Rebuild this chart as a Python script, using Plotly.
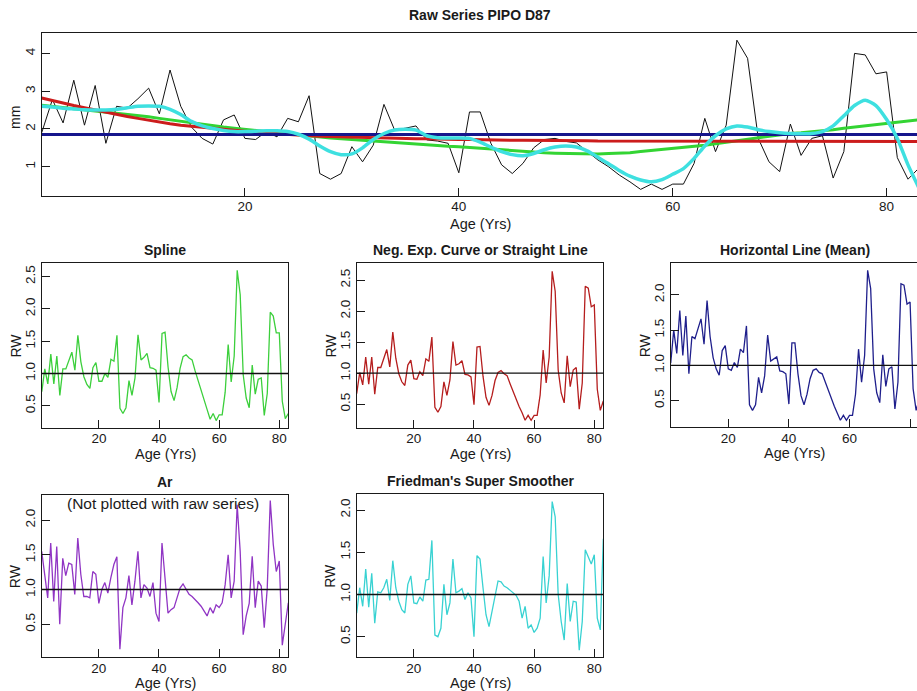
import plotly.graph_objects as go

W, H = 917, 691

# ---------------- data ----------------
age = list(range(1, 84))

raw_mm = [1.90, 2.78, 2.16, 3.29, 2.10, 3.15, 1.62, 2.60, 2.55, 2.80,
          3.08, 2.40, 3.56, 2.60, 2.05, 1.75, 1.60, 2.24, 2.37, 1.75,
          1.72, 1.93, 1.79, 2.28, 2.19, 2.88, 0.82, 0.67, 0.82, 1.53,
          1.13, 1.57, 2.65, 1.97, 2.02, 2.08, 1.71, 1.68, 1.62, 0.84,
          2.45, 2.45, 1.62, 1.05, 0.82, 1.09, 1.50, 1.72, 1.75, 1.67,
          1.63, 1.40, 1.18, 1.00, 0.78, 0.60, 0.40, 0.54, 0.40, 0.54,
          0.54, 1.09, 2.28, 1.40, 2.10, 4.35, 3.87, 1.75, 1.13, 0.87,
          2.13, 1.30, 1.75, 1.82, 0.70, 1.40, 4.00, 3.96, 3.46, 3.51,
          1.24, 0.67, 0.96]

spline_curve = [2.63, 2.60, 2.57, 2.54, 2.51, 2.48, 2.45, 2.42, 2.39, 2.35,
                2.32, 2.28, 2.24, 2.20, 2.16, 2.12, 2.08, 2.05, 2.02, 1.99,
                1.96, 1.93, 1.90, 1.87, 1.84, 1.81, 1.78, 1.76, 1.74, 1.72,
                1.70, 1.68, 1.66, 1.63, 1.61, 1.59, 1.57, 1.55, 1.54, 1.53,
                1.51, 1.49, 1.47, 1.45, 1.42, 1.40, 1.39, 1.37, 1.36, 1.35,
                1.35, 1.34, 1.34, 1.35, 1.35, 1.37, 1.40, 1.43, 1.46, 1.49,
                1.51, 1.53, 1.57, 1.61, 1.65, 1.69, 1.74, 1.78, 1.81, 1.85,
                1.88, 1.90, 1.92, 1.95, 1.98, 2.02, 2.05, 2.09, 2.12, 2.15,
                2.18, 2.21, 2.24]

negexp_curve = [2.82, 2.75, 2.68, 2.62, 2.56, 2.50, 2.44, 2.38, 2.33, 2.28,
                2.23, 2.18, 2.14, 2.10, 2.07, 2.04, 2.01, 1.98, 1.96, 1.93,
                1.91, 1.89, 1.87, 1.85, 1.84, 1.82, 1.81, 1.80, 1.79, 1.78,
                1.77, 1.77, 1.76, 1.75, 1.75, 1.74, 1.74, 1.73, 1.73, 1.72,
                1.72, 1.71, 1.71, 1.71, 1.70, 1.70, 1.70, 1.70, 1.69, 1.69,
                1.69, 1.69, 1.68, 1.68, 1.68, 1.68, 1.68, 1.68, 1.67, 1.67,
                1.67, 1.67, 1.67, 1.67, 1.67, 1.67, 1.67, 1.67, 1.67, 1.67,
                1.67, 1.67, 1.67, 1.67, 1.67, 1.67, 1.67, 1.67, 1.67, 1.67,
                1.67, 1.67, 1.67]

raw_mean_mm = 1.85

friedman_curve = [2.60, 2.58, 2.55, 2.53, 2.51, 2.50, 2.50, 2.52, 2.56, 2.60,
                  2.61, 2.60, 2.52, 2.38, 2.20, 2.08, 2.01, 1.96, 1.93, 1.93,
                  1.94, 1.95, 1.95, 1.93, 1.86, 1.73, 1.55, 1.40, 1.32, 1.34,
                  1.50, 1.72, 1.88, 1.97, 1.99, 1.97, 1.82, 1.77, 1.76, 1.76,
                  1.75, 1.65, 1.52, 1.40, 1.32, 1.29, 1.35, 1.45, 1.52, 1.55,
                  1.52, 1.42, 1.25, 1.08, 0.90, 0.75, 0.65, 0.60, 0.66, 0.80,
                  0.95, 1.22, 1.55, 1.82, 2.00, 2.08, 2.05, 1.98, 1.93, 1.90,
                  1.88, 1.87, 1.88, 1.93, 2.08, 2.35, 2.62, 2.76, 2.62, 2.25,
                  1.75, 1.05, 0.45]

rw_spline = [0.72, 1.07, 0.84, 1.30, 0.84, 1.27, 0.66, 1.07, 1.07, 1.19,
             1.33, 1.05, 1.59, 1.18, 0.95, 0.83, 0.77, 1.09, 1.17, 0.88,
             0.88, 1.00, 0.94, 1.22, 1.19, 1.59, 0.46, 0.38, 0.47, 0.89,
             0.66, 0.93, 1.60, 1.21, 1.25, 1.31, 1.09, 1.08, 1.05, 0.55,
             1.62, 1.64, 1.10, 0.72, 0.58, 0.78, 1.08, 1.26, 1.29, 1.24,
             1.21, 1.04, 0.88, 0.74, 0.58, 0.44, 0.29, 0.38, 0.27, 0.36,
             0.36, 0.71, 1.45, 0.87, 1.27, 2.60, 2.22, 0.98, 0.62, 0.47,
             1.13, 0.68, 0.91, 0.93, 0.35, 0.69, 1.95, 1.89, 1.63, 1.63,
             0.57, 0.30, 0.38]

rw_negexp = [0.67, 1.01, 0.81, 1.26, 0.82, 1.26, 0.66, 1.09, 1.09, 1.23,
             1.38, 1.10, 1.66, 1.24, 0.99, 0.86, 0.80, 1.13, 1.21, 0.91,
             0.90, 1.02, 0.96, 1.23, 1.19, 1.58, 0.45, 0.37, 0.46, 0.86,
             0.64, 0.89, 1.51, 1.13, 1.15, 1.20, 0.98, 0.97, 0.94, 0.49,
             1.42, 1.43, 0.95, 0.61, 0.48, 0.64, 0.88, 1.01, 1.04, 0.99,
             0.96, 0.83, 0.70, 0.60, 0.46, 0.36, 0.24, 0.32, 0.24, 0.32,
             0.32, 0.65, 1.37, 0.84, 1.26, 2.64, 2.32, 1.05, 0.68, 0.52,
             1.28, 0.78, 1.05, 1.09, 0.42, 0.84, 2.40, 2.37, 2.07, 2.10,
             0.74, 0.40, 0.55]

rw_mean = [1.03, 1.50, 1.17, 1.78, 1.14, 1.70, 0.88, 1.41, 1.38, 1.51,
           1.66, 1.30, 1.92, 1.41, 1.11, 0.95, 0.86, 1.21, 1.28, 0.95,
           0.93, 1.04, 0.97, 1.23, 1.18, 1.56, 0.44, 0.36, 0.44, 0.83,
           0.61, 0.85, 1.43, 1.06, 1.09, 1.12, 0.92, 0.91, 0.88, 0.45,
           1.32, 1.32, 0.88, 0.57, 0.44, 0.59, 0.81, 0.93, 0.95, 0.90,
           0.88, 0.76, 0.64, 0.54, 0.42, 0.32, 0.22, 0.29, 0.22, 0.29,
           0.29, 0.59, 1.23, 0.76, 1.14, 2.35, 2.09, 0.95, 0.61, 0.47,
           1.15, 0.70, 0.95, 0.98, 0.38, 0.76, 2.16, 2.14, 1.87, 1.90,
           0.67, 0.36, 0.52]

rw_ar = [1.55, 1.25, 0.88, 1.67, 0.83, 1.62, 0.50, 1.45, 1.20, 1.38,
         1.36, 0.93, 1.74, 1.22, 0.90, 0.90, 0.88, 1.26, 1.22, 0.80,
         1.00, 1.10, 0.95, 1.17, 1.36, 1.47, 0.14, 0.74, 0.88, 1.20,
         0.78, 1.12, 1.55, 0.88, 1.07, 1.02, 0.90, 1.10, 0.66, 0.54,
         1.67, 1.17, 0.66, 0.71, 0.74, 0.88, 1.02, 1.08, 1.00, 0.93,
         0.90, 0.86, 0.81, 0.76, 0.69, 0.62, 0.74, 0.66, 0.78, 0.74,
         0.81, 1.07, 1.50, 0.88, 1.12, 2.22, 1.55, 0.35, 0.62, 0.80,
         1.48, 0.74, 1.12, 1.05, 0.45, 1.02, 2.28, 1.65, 1.26, 1.41,
         0.20, 0.54, 0.81]

rw_friedman = [0.78, 1.08, 0.86, 1.30, 0.85, 1.25, 0.66, 1.03, 1.02, 1.08,
               1.18, 0.93, 1.40, 1.08, 0.92, 0.82, 0.78, 1.12, 1.22, 0.90,
               0.89, 0.97, 0.92, 1.17, 1.18, 1.64, 0.52, 0.50, 0.60, 1.12,
               0.76, 0.90, 1.42, 1.02, 1.04, 1.07, 0.94, 1.02, 0.96, 0.50,
               1.46, 1.42, 1.08, 0.76, 0.62, 0.80, 1.02, 1.16, 1.15, 1.10,
               1.08, 1.05, 1.03, 0.99, 0.92, 0.72, 0.86, 0.60, 0.64, 0.55,
               0.60, 0.72, 1.45, 0.90, 1.22, 2.10, 1.92, 1.00, 0.68, 0.46,
               1.13, 0.68, 0.92, 0.91, 0.34, 0.68, 1.53, 1.45, 1.36, 1.47,
               0.72, 0.58, 1.66]

age_ticks = [20, 40, 60, 80]
mm_ticks = [1, 2, 3, 4]
rw_ticks = [0.5, 1.0, 1.5, 2.0, 2.5]

# ---------------- styling ----------------
FONT = "Liberation Sans, Arial, sans-serif"
TICK_FONT = dict(family=FONT, size=13.5, color="#1a1a1a")
AXIS_COLOR = "#1a1a1a"


def px_x(x):
    return x / W


def px_y(y):
    return 1 - y / H


fig = go.Figure()
layout = dict(
    width=W, height=H,
    margin=dict(l=0, r=0, t=0, b=0),
    paper_bgcolor="white", plot_bgcolor="white",
    showlegend=False,
    font=dict(family=FONT, size=13, color="#1a1a1a"),
)
annotations = []
shapes = []


def add_panel(idx, box, xr, yr, yticks, yfmt, cropped_right, title, ylabel,
              ylabel_x, title_xy=None, xlabel_y=None, ylabel_y=None):
    """box = (left, top, right, bottom) in pixels."""
    left, top, right, bottom = box
    xname = "xaxis" if idx == 1 else f"xaxis{idx}"
    yname = "yaxis" if idx == 1 else f"yaxis{idx}"
    xref = "x" if idx == 1 else f"x{idx}"
    yref = "y" if idx == 1 else f"y{idx}"
    layout[xname] = dict(
        domain=[px_x(left), min(px_x(right), 1.0)], range=xr,
        anchor=yref, tickvals=age_ticks, ticks="inside", ticklen=8,
        tickwidth=1, tickcolor=AXIS_COLOR, showline=True, mirror=True,
        linecolor=AXIS_COLOR, linewidth=1, showgrid=False, zeroline=False,
        tickfont=TICK_FONT, ticklabelstandoff=-2,
    )
    layout[yname] = dict(
        domain=[px_y(bottom), px_y(top)], range=yr,
        anchor=xref, tickvals=yticks, tickformat=yfmt, ticks="inside",
        ticklen=8, tickwidth=1, tickcolor=AXIS_COLOR, showline=True,
        mirror=not cropped_right, linecolor=AXIS_COLOR, linewidth=1,
        showgrid=False, zeroline=False, tickangle=-90, tickfont=TICK_FONT,
        ticklabelstandoff=0,
    )
    cx = (left + right) / 2
    tx, ty = title_xy if title_xy else (cx, top - 13)
    annotations.append(dict(
        text=f"<b>{title}</b>", x=px_x(tx), y=px_y(ty),
        xref="paper", yref="paper", showarrow=False,
        xanchor="center", yanchor="middle",
        font=dict(family=FONT, size=14, color="#1a1a1a"),
    ))
    annotations.append(dict(
        text="Age (Yrs)", x=px_x(cx),
        y=px_y(xlabel_y if xlabel_y else bottom + 26),
        xref="paper", yref="paper", showarrow=False,
        xanchor="center", yanchor="middle",
        font=dict(family=FONT, size=14.5, color="#1a1a1a"),
    ))
    annotations.append(dict(
        text=ylabel, x=px_x(ylabel_x),
        y=px_y(ylabel_y if ylabel_y else (top + bottom) / 2),
        xref="paper", yref="paper", showarrow=False, textangle=-90,
        xanchor="center", yanchor="middle",
        font=dict(family=FONT, size=14, color="#1a1a1a"),
    ))
    return xref, yref


def unity_line(xref, yref):
    shapes.append(dict(
        type="line", xref=f"{xref} domain", yref=yref,
        x0=0, x1=1, y0=1.0, y1=1.0,
        line=dict(color="#111111", width=1.4),
    ))


# ---- raw series with the fitted curves ----
xr, yr = add_panel(1, (41.7, 33, 918.8, 196), [1, 82.84], [0.225, 4.54],
                   mm_ticks, "d", True, "Raw Series PIPO D87", "mm", 15,
                   title_xy=(480, 15), xlabel_y=224, ylabel_y=118)

fig.add_trace(go.Scatter(x=age, y=raw_mm, mode="lines", xaxis=xr, yaxis=yr,
                         line=dict(color="#111111", width=1)))
fig.add_trace(go.Scatter(x=age, y=spline_curve, mode="lines", xaxis=xr,
                         yaxis=yr, line=dict(color="#33d433", width=3)))
fig.add_trace(go.Scatter(x=age, y=negexp_curve, mode="lines", xaxis=xr,
                         yaxis=yr, line=dict(color="#cc1c1c", width=3)))
fig.add_trace(go.Scatter(x=[age[0], age[-1]], y=[raw_mean_mm, raw_mean_mm],
                         mode="lines", xaxis=xr, yaxis=yr,
                         line=dict(color="#16168c", width=3)))
fig.add_trace(go.Scatter(x=age, y=friedman_curve, mode="lines", xaxis=xr,
                         yaxis=yr, line=dict(color="#3ee0e0", width=3.5,
                                             shape="spline", smoothing=0.6)))

# ---- detrended series ----
small = [
    (2, (41.8, 263.3, 288.3, 427.7), [1, 83], [0.16, 2.707], False,
     "Spline", 15, rw_spline, "#3ccf3c", None),
    (3, (356.7, 263.3, 603.3, 427.7), [1, 83], [0.12, 2.77], False,
     "Neg. Exp. Curve or Straight Line", 330, rw_negexp, "#b51d1d", None),
    (4, (670.7, 263.3, 919.0, 427.3), [1, 82.29], [0.12, 2.45], True,
     "Horizontal Line (Mean)", 645, rw_mean, "#1f1f8c", None),
    (5, (41.7, 495.0, 288.3, 657.3), [1, 83], [0.025, 2.36], False,
     "Ar", 15, rw_ar, "#9035c4", 682.5),
    (6, (356.7, 494.3, 603.3, 657.3), [1, 83], [0.256, 2.186], False,
     "Friedman's Super Smoother", 330, rw_friedman, "#38d2d2", 682.5),
]
for idx, box, xrange_, yrange_, crop, title, ylx, series, color, xly in small:
    ticks_here = [t for t in rw_ticks if yrange_[0] < t < yrange_[1]]
    xr, yr = add_panel(idx, box, xrange_, yrange_, ticks_here, ".1f", crop,
                       title, "RW", ylx, xlabel_y=xly)
    fig.add_trace(go.Scatter(x=age, y=series, mode="lines", xaxis=xr,
                             yaxis=yr, line=dict(color=color, width=1.3)))
    unity_line(xr, yr)

annotations.append(dict(
    text="(Not plotted with raw series)", x=px_x(163), y=px_y(503),
    xref="paper", yref="paper", showarrow=False, xanchor="center",
    yanchor="middle", font=dict(family=FONT, size=15.5, color="#1a1a1a"),
))

layout["annotations"] = annotations
layout["shapes"] = shapes
fig.update_layout(**layout)
fig.write_html("out.html")
